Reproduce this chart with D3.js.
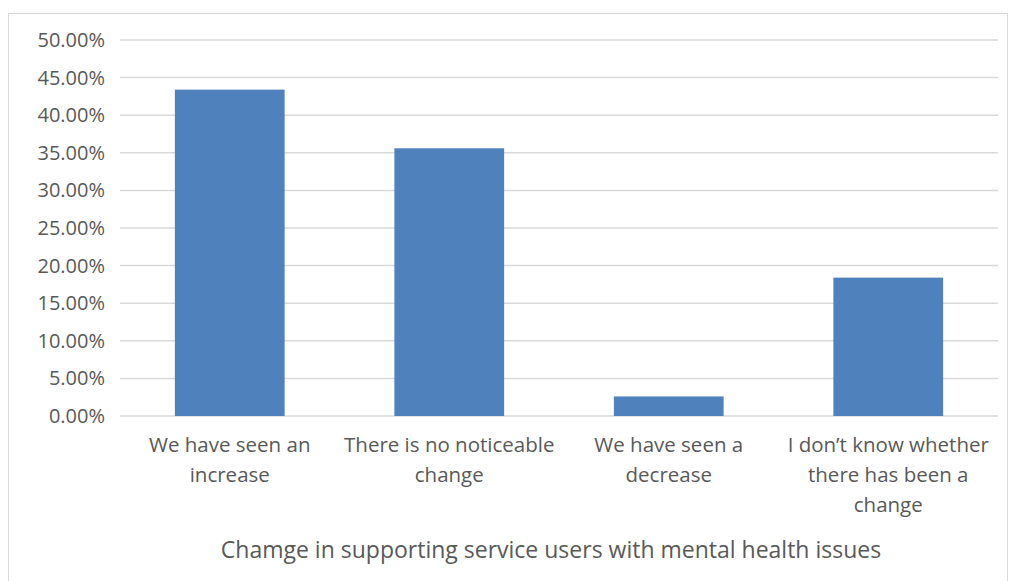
<!DOCTYPE html>
<html>
<head>
<meta charset="utf-8">
<script src="https://cdn.jsdelivr.net/npm/d3@7"></script>
<style>
  body { margin: 0; background: #fff; }
  text { font-family: "Open Sans", sans-serif; fill: #595959; }
</style>
</head>
<body>
<script>
const categories = [
    "We have seen an increase",
    "There is no noticeable change",
    "We have seen a decrease",
    "I don\u2019t know whether there has been a change"
];
const categoryLines = [
    ["We have seen an", "increase"],
    ["There is no noticeable", "change"],
    ["We have seen a", "decrease"],
    ["I don\u2019t know whether", "there has been a", "change"]
];
const values = [0.434, 0.356, 0.026, 0.184];
const yTicks = [0, 0.05, 0.10, 0.15, 0.20, 0.25, 0.30, 0.35, 0.40, 0.45, 0.50];
const axisTitle = "Chamge in supporting service users with mental health issues";

showBarChart();
function showBarChart() {
    const W = 1010, H = 581;
    const margin = {top: 40, right: 12, bottom: 165, left: 120};
    const width = W - margin.left - margin.right, height = H - margin.top - margin.bottom;

    const root = d3.select('body').append('svg')
        .attr('width', W)
        .attr('height', H);

    // chart area border
    root.append('rect')
        .attr('x', 8.5).attr('y', 13.5)
        .attr('width', 999).attr('height', 600)
        .attr('fill', 'none')
        .attr('stroke', '#d9d9d9')
        .attr('stroke-width', 1);

    const svg = root.append('g')
        .attr('transform', `translate(${margin.left}, ${margin.top})`);

    const yScale = d3.scaleLinear()
        .domain([0, 0.5])
        .range([height, 0]);

    const xScale = d3.scaleBand()
        .domain(categories)
        .range([0, width])
        .paddingInner(0.5)
        .paddingOuter(0.25);

    // gridlines
    svg.append('g')
        .selectAll('line')
        .data(yTicks)
        .enter()
        .append('line')
        .attr('x1', 0).attr('x2', width)
        .attr('y1', d => yScale(d)).attr('y2', d => yScale(d))
        .attr('stroke', '#d9d9d9')
        .attr('stroke-width', 1.5);

    // y axis labels
    const yAxis = d3.axisLeft(yScale)
        .tickValues(yTicks)
        .tickFormat(d => (d * 100).toFixed(2) + '%')
        .tickSize(0)
        .tickPadding(15);
    const yg = svg.append('g').call(yAxis);
    yg.select('.domain').remove();
    yg.selectAll('text').style('font-size', '20px').attr('fill', '#595959');

    // bars
    svg.selectAll('rect.bar')
        .data(values)
        .enter()
        .append('rect')
        .attr('class', 'bar')
        .attr('fill', '#4f81bd')
        .attr('x', (d, i) => xScale(categories[i]))
        .attr('width', xScale.bandwidth())
        .attr('y', d => yScale(d))
        .attr('height', d => height - yScale(d));

    // x labels
    const xg = svg.append('g').attr('transform', `translate(0, ${height})`);
    categories.forEach((c, i) => {
        const t = xg.append('text')
            .attr('x', xScale(c) + xScale.bandwidth() / 2)
            .attr('y', 36)
            .attr('text-anchor', 'middle')
            .style('font-size', '20.5px');
        categoryLines[i].forEach((ln, j) => {
            t.append('tspan')
                .attr('x', xScale(c) + xScale.bandwidth() / 2)
                .attr('dy', j === 0 ? 0 : 30)
                .text(ln);
        });
    });

    // axis title
    svg.append('text')
        .attr('x', width / 2 - 8)
        .attr('y', height + 142)
        .attr('text-anchor', 'middle')
        .style('font-size', '23px')
        .text(axisTitle);
}
</script>
</body>
</html>
